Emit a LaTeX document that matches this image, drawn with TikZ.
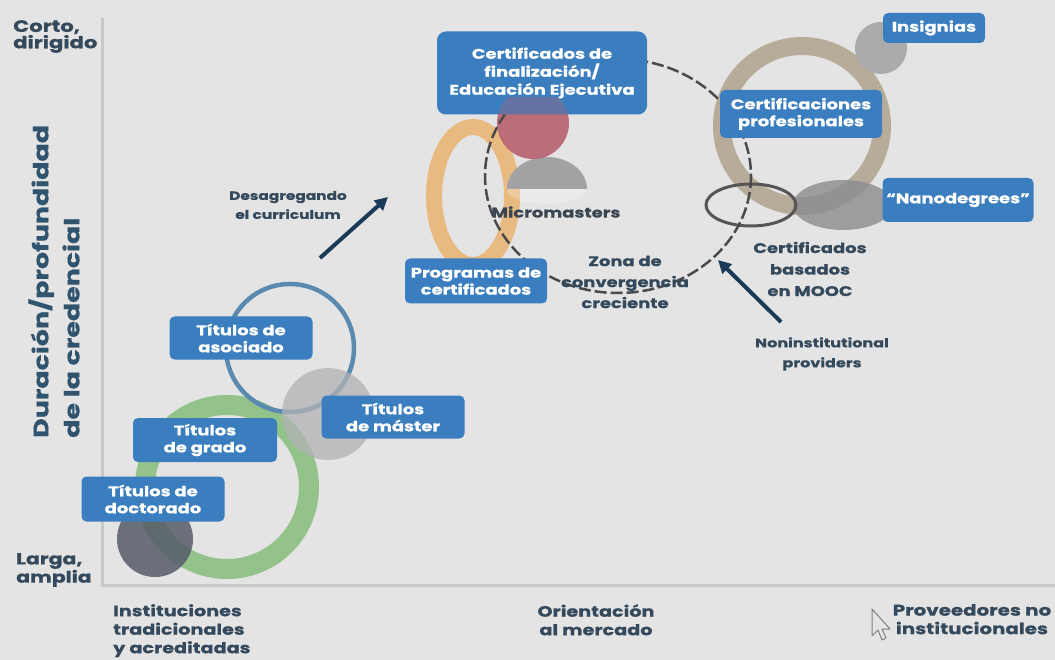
\documentclass[tikz,border=0pt]{standalone}
\usepackage{fontspec}
\setmainfont{Poppins}[FakeStretch=1.28, BoldFeatures={FakeBold=0.6}]
\usetikzlibrary{arrows.meta}
\definecolor{bgc}{HTML}{E4E4E4}
\definecolor{axisc}{HTML}{C8C8C8}
\definecolor{boxblue}{HTML}{3A7EBF}
\definecolor{slate}{HTML}{34495C}
\definecolor{vlab}{HTML}{30536E}
\definecolor{inner}{HTML}{3A4652}
\definecolor{greenr}{HTML}{93C28A}
\definecolor{bluer}{HTML}{5A8AB0}
\definecolor{darkdisk}{HTML}{555B68}
\definecolor{lightdisk}{HTML}{B2B2B5}
\definecolor{oranger}{HTML}{E8BA80}
\definecolor{mauve}{HTML}{B8616F}
\definecolor{dome}{HTML}{A2A2A4}
\definecolor{tanr}{HTML}{B7AC9A}
\definecolor{insdisk}{HTML}{ABABAD}
\definecolor{nanodisk}{HTML}{8C8C8E}
\definecolor{moocr}{HTML}{555555}
\definecolor{dashc}{HTML}{4A4A4A}
\definecolor{navy}{HTML}{1B3A57}
\tikzset{
  box/.style={fill=boxblue, rounded corners=5pt, text=white, align=center, inner sep=0pt,
    font=\bfseries\fontsize{14}{17}\selectfont},
  lab/.style={align=center, inner sep=0pt, font=\bfseries\fontsize{14}{21}\selectfont, text=inner},
  axlab/.style={align=left, inner sep=0pt, text=slate, font=\bfseries\fontsize{15}{18.5}\selectfont},
  bigarrow/.style={navy, line width=4pt, -{Triangle[length=13pt,width=13pt]}},
}
\begin{document}
\begin{tikzpicture}[x=1pt,y=-1pt]
\useasboundingbox (0,0) rectangle (1055,660);
\fill[bgc] (0,0) rectangle (1055,660);
% axes
\draw[axisc, line width=3pt] (102,18) -- (102,585) -- (1055,585);
% axis labels
\node[axlab, anchor=north west, font=\bfseries\fontsize{16.5}{15}\selectfont] (corto) at (13,20) {Corto,\\dirigido};
\node[axlab, anchor=north west, font=\bfseries\fontsize{16}{15}\selectfont] (larga) at (16,553) {Larga,\\amplia};
\node[align=left, inner sep=0pt, rotate=90, anchor=west, text=vlab, font=\bfseries\fontsize{21}{31}\selectfont] (vlabel) at (54,438) {Duración/profundidad\\de la credencial};
\node[axlab, anchor=north west] (inst) at (113,604) {Instituciones\\tradicionales\\y acreditadas};
\node[axlab, anchor=north, align=center] (orient) at (596,604) {Orientación\\al mercado};
\node[axlab, anchor=north, align=center, font=\bfseries\fontsize{15.5}{18.5}\selectfont] (prov) at (972,604) {Proveedores no\\institucionales};
% cursor
\draw[fill=bgc, draw=gray, line width=1pt, line join=round] (872,609) -- (872,636) -- (878,630) -- (882,640) -- (886,638) -- (882,629) -- (890,629) -- cycle;
% left cluster
\draw[greenr, line width=20pt] (227,487) circle (82);
\draw[bluer, line width=4.5pt] (290,348) circle (64);
\fill[darkdisk, opacity=.85] (155,539) circle (38);
\fill[lightdisk, opacity=.75] (328,414) circle (46);
% middle cluster
\draw[oranger, line width=16pt] (473,196) ellipse (39 and 69);
\fill[dome] (507,189) arc[start angle=180, end angle=360, x radius=40, y radius=32] -- cycle;
\fill[white, opacity=.25] (507,189) arc[start angle=180, end angle=0, x radius=40, y radius=15] -- cycle;
\fill[mauve, opacity=.9] (533,123) circle (36);
% right cluster
\draw[tanr, line width=18pt] (802,126) circle (80);
\fill[insdisk] (881,48) circle (26);
\fill[nanodisk, opacity=.8] (843,205) ellipse (50 and 25);
\draw[moocr, line width=3pt] (751,205) ellipse (45 and 21);
% convergence zone
\draw[dashc, line width=2.5pt, dash pattern=on 12pt off 4pt] (618,176) ellipse (133 and 117);
% boxes
\node[box, minimum width=210pt, minimum height=83pt, rounded corners=9pt, font=\bfseries\fontsize{14}{18}\selectfont] (cfin) at (542,73) {Certificados de\\finalización/\\Educación Ejecutiva};
\begin{scope}
\clip (cfin.south west) rectangle ([yshift=17pt]cfin.south east);
\fill[mauve, opacity=.35] (533,123) circle (36);
\end{scope}
\node[box, minimum width=102pt, minimum height=30pt] (insig) at (934,28) {Insignias};
\node[box, minimum width=162pt, minimum height=48pt] (cprof) at (801,114) {Certificaciones\\profesionales};
\node[box, minimum width=151pt, minimum height=44pt] (nano) at (958,200) {``Nanodegrees''};
\node[box, minimum width=142pt, minimum height=45pt] (prog) at (476,281) {Programas de\\certificados};
\node[box, minimum width=143pt, minimum height=43pt] (asoc) at (241,338) {Títulos de\\asociado};
\node[box, minimum width=143pt, minimum height=43pt] (mast) at (393,417) {Títulos\\de máster};
\node[box, minimum width=144pt, minimum height=44pt] (grado) at (205,440) {Títulos\\de grado};
\node[box, minimum width=143pt, minimum height=45pt] (doct) at (153,499) {Títulos de\\doctorado};
% inner labels
\node[lab] (micro) at (556,212) {Micromasters};
\node[lab, text=slate] (zona) at (625,282) {Zona de\\convergencia\\creciente};
\node[lab, text=slate, font=\bfseries\fontsize{14}{21.5}\selectfont] (mooc) at (810,269) {Certificados\\basados\\en MOOC};
\node[lab, text=slate, font=\bfseries\fontsize{12}{19}\selectfont] (desag) at (288,205) {Desagregando\\el curriculum};
\node[lab, text=slate, font=\bfseries\fontsize{12.5}{20}\selectfont] (nonins) at (822,354) {Noninstitutional\\providers};
% arrows
\coordinate (d1) at (320,258);
\coordinate (d2) at (388,197);
\coordinate (n1) at (781,322);
\coordinate (n2) at (718,260);
\draw[bigarrow] (d1) -- (d2);
\draw[bigarrow] (n1) -- (n2);
\end{tikzpicture}
\end{document}
